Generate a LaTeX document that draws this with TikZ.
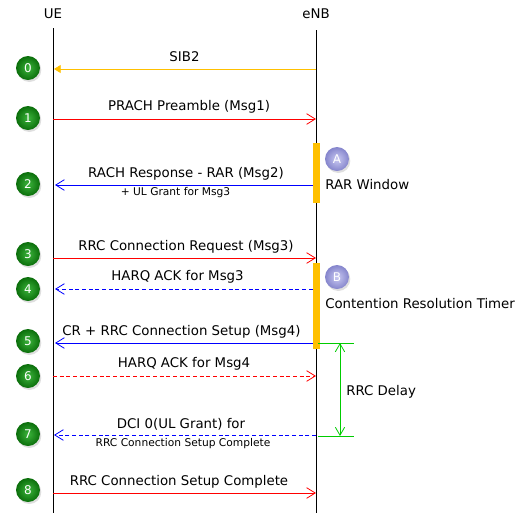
\documentclass[tikz,border=0pt]{standalone}
\usepackage{fontspec}
\setmainfont{DejaVu Sans}
\usetikzlibrary{arrows.meta,shadows}
\definecolor{sibc}{HTML}{FFC000}
\definecolor{msgred}{HTML}{FF0000}
\definecolor{msgblue}{HTML}{0000FF}
\definecolor{delaygreen}{HTML}{00CC00}
\definecolor{greenin}{HTML}{3CB43C}
\definecolor{greenout}{HTML}{0B6E0B}
\definecolor{bluein}{HTML}{CACAF2}
\definecolor{blueout}{HTML}{8585CC}
\tikzset{
  every node/.style={inner sep=0pt, font=\fontsize{10}{12}\selectfont},
  lifeline/.style={draw=black, line width=0.75pt},
  barb/.style={-{Straight Barb[length=6.5pt,width=8pt,line width=0.6pt]}},
  redmsg/.style={draw=msgred, line width=0.6pt, barb},
  bluemsg/.style={draw=msgblue, line width=0.6pt, barb},
  dashmsg/.style={dash pattern=on 3pt off 2pt},
  sibmsg/.style={draw=sibc, line width=0.6pt, -{Triangle[length=5pt,width=6pt]}},
  numball/.style={circle, minimum size=18pt, inner color=greenin, outer color=greenout, text=white,
    font=\fontsize{9}{10}\selectfont, drop shadow={shadow xshift=1pt, shadow yshift=-1.5pt, opacity=0.25}},
  letterball/.style={circle, minimum size=18pt, inner color=bluein, outer color=blueout, text=white,
    font=\fontsize{9}{10}\selectfont, drop shadow={shadow xshift=1pt, shadow yshift=-1.5pt, opacity=0.25}},
  msglabel/.style={anchor=base},
  sublabel/.style={anchor=base, font=\fontsize{8}{9}\selectfont},
  bar/.style={fill=sibc, draw=none},
  delay/.style={draw=delaygreen, line width=0.6pt},
}
\begin{document}
\begin{tikzpicture}[x=0.75pt,y=-0.75pt]
\useasboundingbox (0,0) rectangle (526,519);
% lifelines
\node (ue) at (53,14) {UE};
\node (enb) at (316,14) {eNB};
\coordinate (uetop) at (53,28);
\coordinate (uebot) at (53,513);
\coordinate (enbtop) at (316,30);
\coordinate (enbbot) at (316,513);
\draw[lifeline] (uetop) -- (uebot);
\draw[lifeline] (enbtop) -- (enbbot);
% bars
\fill[bar] (312.5,143) rectangle (319.5,203);
\fill[bar] (312.5,263) rectangle (319.5,349);
% message end points
\coordinate (u0) at (54,69);   \coordinate (e0) at (316,69);
\coordinate (u1) at (53,119);  \coordinate (e1) at (316,119);
\coordinate (u2) at (55,185);  \coordinate (e2) at (312.5,185);
\coordinate (u3) at (53,258);  \coordinate (e3) at (316,258);
\coordinate (u4) at (55,289);  \coordinate (e4) at (312.5,289);
\coordinate (u5) at (55,343);  \coordinate (e5) at (312.5,343);
\coordinate (u6) at (53,376);  \coordinate (e6) at (316,376);
\coordinate (u7) at (54,435);  \coordinate (e7) at (316,435);
\coordinate (u8) at (53,493);  \coordinate (e8) at (316,493);
% messages
\draw[sibmsg] (e0) -- (u0);
\draw[redmsg] (u1) -- (e1);
\draw[bluemsg] (e2) -- (u2);
\draw[redmsg] (u3) -- (e3);
\draw[bluemsg,dashmsg] (e4) -- (u4);
\draw[bluemsg] (e5) -- (u5);
\draw[redmsg,dashmsg] (u6) -- (e6);
\draw[bluemsg,dashmsg] (e7) -- (u7);
\draw[redmsg] (u8) -- (e8);
% labels
\node[msglabel] (l0) at (184.5,61) {SIB2};
\node[msglabel] (l1) at (189,110) {PRACH Preamble (Msg1)};
\node[msglabel] (l2) at (186,177) {RACH Response - RAR (Msg2)};
\node[sublabel] (s2) at (175.5,195) {+ UL Grant for Msg3};
\node[msglabel] (l3) at (186,250) {RRC Connection Request (Msg3)};
\node[msglabel] (l4) at (177.5,280) {HARQ ACK for Msg3};
\node[msglabel] (l5) at (181.5,335) {CR + RRC Connection Setup (Msg4)};
\node[msglabel] (l6) at (184,367) {HARQ ACK for Msg4};
\node[msglabel] (l7) at (181,428) {DCI 0(UL Grant) for};
\node[sublabel] (s7) at (183,446) {RRC Connection Setup Complete};
\node[msglabel] (l8) at (179,485) {RRC Connection Setup Complete};
% number balls
\node[numball] (n0) at (28,68) {0};
\node[numball] (n1) at (28,118) {1};
\node[numball] (n2) at (28,184) {2};
\node[numball] (n3) at (28,254) {3};
\node[numball] (n4) at (28,289) {4};
\node[numball] (n5) at (28,341) {5};
\node[numball] (n6) at (28,376) {6};
\node[numball] (n7) at (28,434) {7};
\node[numball] (n8) at (28,490) {8};
% timers
\node[letterball] (ta) at (337,159) {A};
\node[anchor=base west] (tal) at (325,189) {RAR Window};
\node[letterball] (tb) at (337,277) {B};
\node[anchor=base west] (tbl) at (325,308) {Contention Resolution Timer};
% RRC delay
\coordinate (d1a) at (318,343); \coordinate (d1b) at (354,343);
\coordinate (d2a) at (318,436); \coordinate (d2b) at (354,436);
\coordinate (dv1) at (340,343); \coordinate (dv2) at (340,436);
\draw[delay] (d1a) -- (d1b);
\draw[delay] (d2a) -- (d2b);
\draw[delay,{Straight Barb[length=6pt,width=7pt,line width=0.6pt]}-{Straight Barb[length=6pt,width=7pt,line width=0.6pt]}] (dv1) -- (dv2);
\node[anchor=base west] (dl) at (346,395) {RRC Delay};
\end{tikzpicture}
\end{document}
